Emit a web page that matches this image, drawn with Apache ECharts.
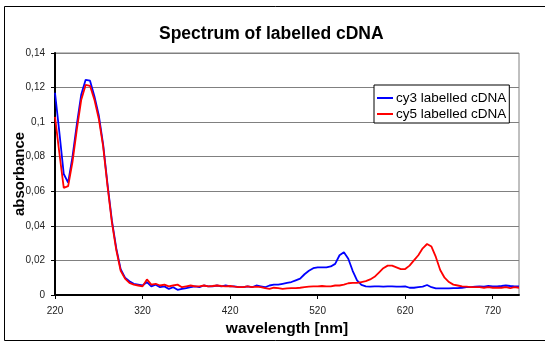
<!DOCTYPE html>
<html>
<head>
<meta charset="utf-8">
<script src="https://cdn.jsdelivr.net/npm/echarts@6/dist/echarts.min.js"></script>
<style>html,body{margin:0;padding:0;background:#fff;}#c{width:545px;height:343px;}</style>
</head>
<body>
<div id="c"></div>
<script>
var wavelengths = [220,225,230,235,240,245,250,255,260,265,270,275,280,285,290,295,300,305,310,315,320,325,330,335,340,345,350,355,360,365,370,375,380,385,390,395,400,405,410,415,420,425,430,435,440,445,450,455,460,465,470,475,480,485,490,495,500,505,510,515,520,525,530,535,540,545,550,555,560,565,570,575,580,585,590,595,600,605,610,615,620,625,630,635,640,645,650,655,660,665,670,675,680,685,690,695,700,705,710,715,720,725,730,735,740,745,750];
var cy3 = [0.117,0.094,0.070,0.065,0.080,0.099,0.116,0.1245,0.124,0.115,0.104,0.087,0.064,0.043,0.027,0.015,0.010,0.008,0.0065,0.006,0.0055,0.0075,0.005,0.006,0.0045,0.005,0.0035,0.0045,0.003,0.0035,0.004,0.0045,0.005,0.0045,0.0055,0.005,0.005,0.0055,0.005,0.0055,0.005,0.005,0.0045,0.0045,0.005,0.0045,0.0055,0.005,0.0045,0.0055,0.006,0.006,0.0065,0.007,0.0075,0.0085,0.0095,0.012,0.014,0.0155,0.016,0.016,0.016,0.0165,0.018,0.023,0.0247,0.021,0.014,0.0085,0.0058,0.005,0.0048,0.005,0.005,0.0048,0.005,0.005,0.0048,0.0048,0.005,0.0042,0.0042,0.0045,0.0048,0.0058,0.0045,0.0038,0.0038,0.0038,0.0038,0.004,0.004,0.0042,0.0045,0.0045,0.0048,0.005,0.0048,0.0052,0.005,0.005,0.0052,0.0055,0.0052,0.005,0.005];
var cy5 = [0.103,0.082,0.062,0.063,0.077,0.096,0.113,0.1215,0.121,0.113,0.102,0.086,0.063,0.042,0.026,0.014,0.0095,0.007,0.006,0.0055,0.005,0.009,0.006,0.0065,0.0055,0.006,0.005,0.0055,0.006,0.0045,0.005,0.0055,0.005,0.005,0.0055,0.005,0.0052,0.0055,0.0052,0.005,0.0052,0.0048,0.0045,0.0045,0.005,0.0045,0.0048,0.0045,0.004,0.0035,0.0042,0.004,0.0035,0.0038,0.004,0.004,0.0042,0.0045,0.0048,0.005,0.005,0.0052,0.005,0.005,0.0055,0.0055,0.006,0.0068,0.007,0.007,0.0075,0.008,0.009,0.0105,0.013,0.0155,0.017,0.017,0.016,0.015,0.015,0.017,0.020,0.023,0.027,0.0295,0.028,0.022,0.0145,0.010,0.0075,0.006,0.0055,0.005,0.0048,0.0045,0.0045,0.0045,0.0042,0.0045,0.0042,0.0042,0.0042,0.0045,0.004,0.0045,0.0042];
var seriesNames = ['cy3 labelled cDNA','cy5 labelled cDNA'];
var titleText = 'Spectrum of labelled cDNA';
var xName = 'wavelength [nm]';
var yName = 'absorbance';

function pairs(xs, ys){ return xs.map(function(x,i){ return [x, ys[i]]; }); }
var FONT = 'Liberation Sans, Arial, sans-serif';
var chart = echarts.init(document.getElementById('c'), null, {renderer:'canvas'});
chart.setOption({
  animation:false,
  backgroundColor:'#fff',
  title:{text:titleText, left:154, top:20, textStyle:{fontFamily:FONT, fontSize:17.5, fontWeight:'bold', color:'#000'}},
  graphic:[{type:'rect', shape:{x:4.5,y:6.5,width:545,height:334}, style:{fill:'none', stroke:'#000', lineWidth:1}, silent:true, z:-1}],
  grid:{left:55, top:53, right:26, bottom:48, show:true, borderColor:'#808080', borderWidth:1, containLabel:false, outerBoundsMode:'none'},
  legend:{orient:'vertical', left:374, top:85, data:seriesNames, icon:'rect', itemWidth:16, itemHeight:2, itemGap:2,
    borderColor:'#000', borderWidth:1, padding:[6,3,2,3], backgroundColor:'#fff',
    textStyle:{fontFamily:FONT, fontSize:13.5, lineHeight:14, color:'#000', padding:[0,0,0,-2]}},
  xAxis:{type:'value', min:220, max:750, interval:100, name:xName, nameLocation:'middle', nameGap:26, nameMoveOverlap:false,
    nameTextStyle:{fontFamily:FONT, fontSize:15.5, fontWeight:'bold', color:'#000'},
    axisLine:{onZero:false, lineStyle:{color:'#000', width:2}}, axisTick:{show:true, length:4, lineStyle:{color:'#000'}},
    axisLabel:{fontFamily:FONT, fontSize:10, color:'#222', margin:11, showMaxLabel:false}, splitLine:{show:false}},
  yAxis:{type:'value', min:0, max:0.14, interval:0.02, name:yName, nameLocation:'middle', nameGap:28, nameMoveOverlap:false,
    nameTextStyle:{fontFamily:FONT, fontSize:15, fontWeight:'bold', color:'#000'},
    axisLine:{show:true, lineStyle:{color:'#000', width:2}}, axisTick:{show:true, length:4, lineStyle:{color:'#000'}},
    axisLabel:{fontFamily:FONT, fontSize:10, color:'#222', margin:10, formatter:function(v){ return String(Math.round(v*100)/100).replace('.',','); }},
    splitLine:{show:true, lineStyle:{color:'#808080', width:1}}},
  series:[
    {name:seriesNames[0], type:'line', data:pairs(wavelengths, cy3), showSymbol:false, lineStyle:{color:'#0000ff', width:1.8}, itemStyle:{color:'#0000ff'}},
    {name:seriesNames[1], type:'line', data:pairs(wavelengths, cy5), showSymbol:false, lineStyle:{color:'#ff0000', width:1.8}, itemStyle:{color:'#ff0000'}}
  ]
});
</script>
</body>
</html>
